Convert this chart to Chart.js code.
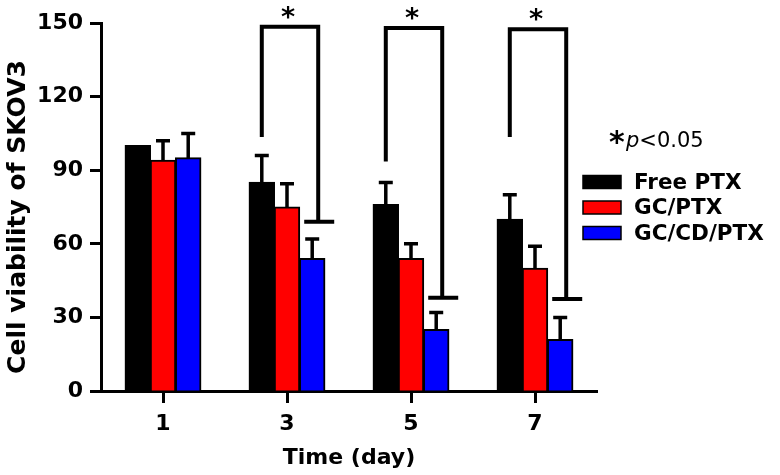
<!DOCTYPE html>
<html>
<head>
<meta charset="utf-8">
<script src="https://cdn.jsdelivr.net/npm/chart.js@4"></script>
<style>
  html, body { margin: 0; padding: 0; background: #fff; }
  #wrap { width: 780px; height: 475px; }
</style>
</head>
<body>
<div id="wrap"><canvas id="viability-chart"></canvas></div>
<script>
// Time points (days)
const days = ['1', '3', '5', '7'];

// Mean cell viability (%) per formulation
const freePtx = [100, 85, 76, 70];
const gcPtx = [94, 75, 54, 50];
const gcCdPtx = [95, 54, 25, 21];

// Upper error (SD) per formulation
const freePtxSd = [0, 11, 9, 10];
const gcPtxSd = [8, 9.5, 6, 9];
const gcCdPtxSd = [10, 8, 7, 9];

// Significance brackets: day index, top level, left leg end, right leg end
const sigDayIdx = [1, 2, 3];
const sigTop = [148.5, 148, 147.5];
const sigLeftEnd = [103.5, 93.5, 103.5];
const sigRightEnd = [69, 38, 37.5];

const seriesNames = ['Free PTX', 'GC/PTX', 'GC/CD/PTX'];
const seriesColors = ['#000000', '#ff0000', '#0000ff'];
const seriesValues = [freePtx, gcPtx, gcCdPtx];
const seriesSd = [freePtxSd, gcPtxSd, gcCdPtxSd];

const yTicks = [0, 30, 60, 90, 120, 150];
const yTitle = 'Cell viability of SKOV3';

const FONT = 'DejaVu Sans';

// Draws error bars, significance brackets, y title and the legend
const annotations = {
  id: 'annotations',
  afterDatasetsDraw(chart) {
    const ctx = chart.ctx;
    const yScale = chart.scales.y;
    ctx.save();
    ctx.strokeStyle = '#000';
    ctx.fillStyle = '#000';

    // error bars (upper only)
    ctx.lineWidth = 3.5;
    seriesSd.forEach((sd, d) => {
      chart.getDatasetMeta(d).data.forEach((bar, i) => {
        if (!sd[i]) return;
        const top = yScale.getPixelForValue(seriesValues[d][i] + sd[i]);
        ctx.beginPath();
        ctx.moveTo(bar.x, bar.y);
        ctx.lineTo(bar.x, top);
        ctx.moveTo(bar.x - 7, top);
        ctx.lineTo(bar.x + 7, top);
        ctx.stroke();
      });
    });

    // brackets
    ctx.lineWidth = 4;
    ctx.lineJoin = 'miter';
    sigDayIdx.forEach((idx, k) => {
      const xl = chart.getDatasetMeta(0).data[idx].x;
      const xr = chart.getDatasetMeta(2).data[idx].x + 6;
      const yt = yScale.getPixelForValue(sigTop[k]);
      const yl = yScale.getPixelForValue(sigLeftEnd[k]);
      const yr = yScale.getPixelForValue(sigRightEnd[k]);
      ctx.beginPath();
      ctx.moveTo(xl, yl);
      ctx.lineTo(xl, yt);
      ctx.lineTo(xr, yt);
      ctx.lineTo(xr, yr);
      ctx.moveTo(xr - 14, yr);
      ctx.lineTo(xr + 16, yr);
      ctx.stroke();
      ctx.font = 'bold 27px ' + FONT;
      ctx.textAlign = 'center';
      ctx.textBaseline = 'alphabetic';
      ctx.fillText('*', (xl + xr) / 2 - 2, yt - 1);
    });

    // y axis title (sits a little below the axis centre in the original)
    ctx.save();
    ctx.translate(18, 217);
    ctx.rotate(-Math.PI / 2);
    ctx.font = 'bold 25px ' + FONT;
    ctx.textAlign = 'center';
    ctx.textBaseline = 'middle';
    ctx.fillText(yTitle, 0, 0);
    ctx.restore();

    // significance note
    ctx.textAlign = 'left';
    ctx.textBaseline = 'alphabetic';
    ctx.font = 'bold 30px ' + FONT;
    ctx.fillText('*', 609, 152);
    ctx.font = 'italic 21px ' + FONT;
    ctx.fillText('p', 626, 147);
    const pw = ctx.measureText('p').width;
    ctx.font = '21px ' + FONT;
    ctx.fillText('<0.05', 626 + pw, 147);

    // legend
    ctx.lineWidth = 1.5;
    seriesNames.forEach((name, i) => {
      const cy = 182 + i * 25.5;
      ctx.fillStyle = seriesColors[i];
      ctx.fillRect(583, cy - 6.5, 38, 13);
      ctx.strokeRect(583, cy - 6.5, 38, 13);
      ctx.fillStyle = '#000';
      ctx.font = 'bold 21.5px ' + FONT;
      ctx.textBaseline = 'middle';
      ctx.fillText(name, 634, cy + 1);
    });
    ctx.restore();
  }
};

const ctx = document.getElementById('viability-chart').getContext('2d');

new Chart(ctx, {
  type: 'bar',
  data: {
    labels: days,
    datasets: seriesNames.map((name, i) => ({
      label: name,
      data: seriesValues[i],
      backgroundColor: seriesColors[i],
      borderColor: '#000',
      borderWidth: 2,
      inflateAmount: 0.6,
      categoryPercentage: 0.61,
      barPercentage: 1
    }))
  },
  options: {
    responsive: true,
    maintainAspectRatio: false,
    animation: false,
    layout: {
      padding: { top: 23, right: 183, left: 0, bottom: 0 }
    },
    plugins: {
      legend: { display: false },
      tooltip: { enabled: false }
    },
    scales: {
      x: {
        afterFit(scale) { scale.height = 84; },
        grid: {
          offset: false,
          drawOnChartArea: false,
          drawTicks: true,
          tickLength: 12,
          tickWidth: 3,
          tickColor: '#000'
        },
        border: { color: '#000', width: 3 },
        ticks: {
          color: '#000',
          padding: 8,
          font: { family: FONT, size: 22, weight: 'bold' }
        },
        title: {
          display: true,
          text: 'Time (day)',
          color: '#000',
          font: { family: FONT, size: 22, weight: 'bold' }
        }
      },
      y: {
        min: 0,
        max: 150,
        afterFit(scale) { scale.width = 101; },
        afterBuildTicks(scale) { scale.ticks = yTicks.map(v => ({ value: v })); },
        grid: {
          drawOnChartArea: false,
          drawTicks: true,
          tickLength: 11,
          tickWidth: 3,
          tickColor: '#000'
        },
        border: { color: '#000', width: 3 },
        ticks: {
          color: '#000',
          padding: 7,
          font: { family: FONT, size: 22, weight: 'bold' }
        }
      }
    }
  },
  plugins: [annotations]
});
</script>
</body>
</html>
